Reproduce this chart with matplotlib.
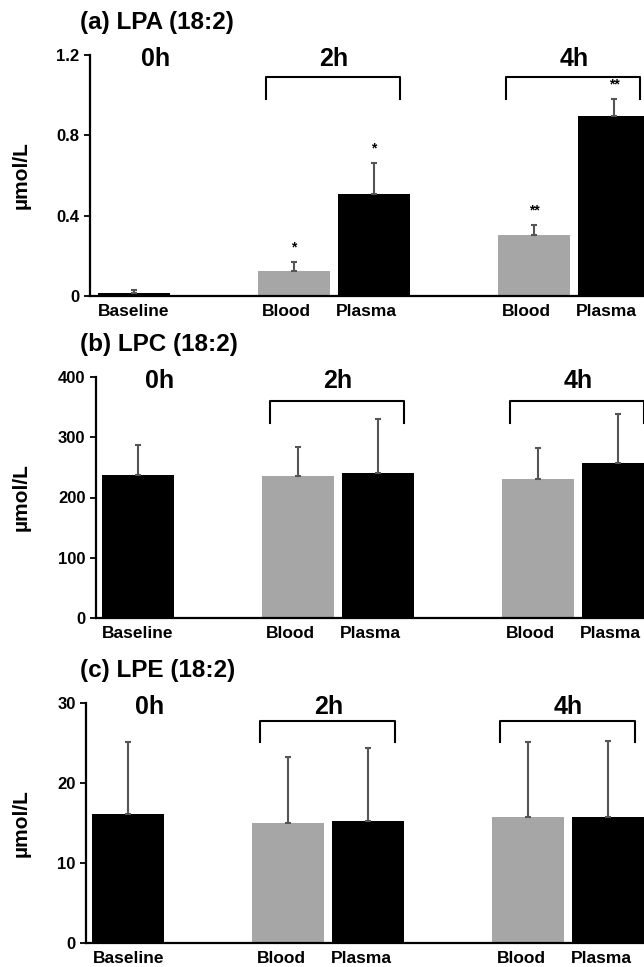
import matplotlib.pyplot as plt

plt.rcParams['font.family'] = ['Liberation Sans', 'DejaVu Sans']
plt.rcParams['font.weight'] = 'bold'
plt.rcParams['axes.labelweight'] = 'bold'

# bar order: Baseline (0h), Blood 2h, Plasma 2h, Blood 4h, Plasma 4h
bar_labels = ['Baseline', 'Blood', 'Plasma', 'Blood', 'Plasma']
bar_pos = [0, 2, 3, 5, 6]
bar_colors = ['black', '#a6a6a6', 'black', '#a6a6a6', 'black']
hour_labels = ['0h', '2h', '4h']

lpa_mean = [0.017, 0.123, 0.510, 0.306, 0.894]
lpa_sd = [0.011, 0.047, 0.153, 0.047, 0.087]
lpa_sig = ['', '*', '*', '**', '**']

lpc_mean = [237.5, 235.8, 240.2, 230.8, 258.0]
lpc_sd = [49.3, 48.8, 90.5, 51.0, 81.0]
lpc_sig = ['', '', '', '', '']

lpe_mean = [16.1, 15.0, 15.3, 15.8, 15.7]
lpe_sd = [9.0, 8.25, 9.05, 9.3, 9.6]
lpe_sig = ['', '', '', '', '']

panels = [
    ('(a) LPA (18:2)', lpa_mean, lpa_sd, lpa_sig, [0, 0.4, 0.8, 1.2], ['0', '0.4', '0.8', '1.2'], 1.2,
     [90, 55, 296], -0.55, 1.089, 0.98),
    ('(b) LPC (18:2)', lpc_mean, lpc_sd, lpc_sig, [0, 100, 200, 300, 400], None, 400,
     [96, 377, 618], -0.525, 359.5, 323.4),
    ('(c) LPE (18:2)', lpe_mean, lpe_sd, lpe_sig, [0, 10, 20, 30], None, 30,
     [86, 703, 943], -0.53, 27.8, 25.1),
]

W, H = 644, 967
fig = plt.figure(figsize=(W / 100, H / 100), dpi=100)

for title, mean, sd, sig, yt, ytl, ymax, box, xleft, btop, bbot in panels:
    left_px, top_px, bot_px = box
    ax = fig.add_axes([left_px / W, 1 - bot_px / H, (W - left_px) / W, (bot_px - top_px) / H])
    ax.bar(bar_pos, mean, width=0.9, color=bar_colors, zorder=2)
    ax.errorbar(bar_pos, mean, yerr=[[0] * 5, sd], fmt='none', ecolor='#555555',
                elinewidth=1.5, capsize=2, capthick=1.5, zorder=3)
    for x, m, s, t in zip(bar_pos, mean, sd, sig):
        if t:
            ax.text(x, m + s + ymax * 0.03, t, ha='center', va='bottom', fontsize=10)
    # brackets over 2h and 4h
    for xb in (2, 5):
        ax.plot([xb - 0.35, xb - 0.35, xb + 1.33, xb + 1.33], [bbot, btop, btop, bbot],
                color='black', lw=1.5, clip_on=False, zorder=4)
    for x, lab in zip([0.27, 2.5, 5.5], hour_labels):
        ax.text(x, ymax * 0.985, lab, ha='center', va='center', fontsize=18, clip_on=False)
    ax.set_xlim(xleft, xleft + (W - left_px) / 80)
    ax.set_ylim(0, ymax)
    ax.set_yticks(yt)
    if ytl:
        ax.set_yticklabels(ytl)
    # Blood/Plasma labels sit slightly left of the bar centres
    ax.set_xticks([p - (0.09 if p else 0) for p in bar_pos])
    ax.set_xticklabels(bar_labels, fontsize=12.5)
    ax.tick_params(axis='x', length=0, pad=6)
    ax.tick_params(axis='y', labelsize=12, length=4, width=1.3)
    for s in ('top', 'right'):
        ax.spines[s].set_visible(False)
    for s in ('left', 'bottom'):
        ax.spines[s].set_linewidth(1.6)
    ax.set_ylabel('µmol/L', fontsize=15, fontweight='bold')
    ax.yaxis.set_label_coords(-(left_px - 31) / (W - left_px), 0.5)
    fig.text(80 / W, 1 - (top_px - 32) / H, title, fontsize=17.5, ha='left', va='center')

fig.savefig('out.png', dpi=100)
